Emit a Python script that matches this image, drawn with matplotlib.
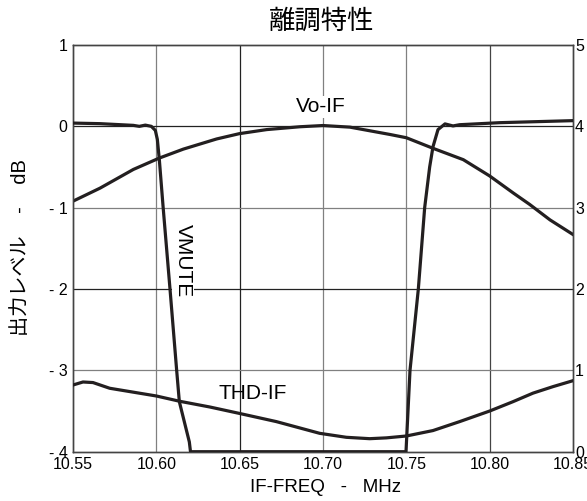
import matplotlib
matplotlib.use('Agg')
import matplotlib.pyplot as plt

plt.rcParams['font.family'] = ['Liberation Sans', 'Noto Sans CJK JP']

# frequency axis (MHz)
X_TICKS = [10.55, 10.60, 10.65, 10.70, 10.75, 10.80, 10.85]
X_LABELS = ['10.55', '10.60', '10.65', '10.70', '10.75', '10.80', '10.85']
LEFT_TICKS = [1, 0, -1, -2, -3, -4]
LEFT_LABELS = ['1', '0', '- 1', '- 2', '- 3', '- 4']
RIGHT_TICKS = [5, 4, 3, 2, 1, 0]
RIGHT_LABELS = ['5', '4', '3', '2', '1', '0']

# Vo-IF, output level in dB (left axis)
vo_freq = [10.55, 10.5662, 10.5862, 10.6018, 10.6162, 10.6362, 10.6498, 10.6662,
           10.6862, 10.70, 10.7162, 10.7402, 10.75, 10.766, 10.7842, 10.80,
           10.8142, 10.824, 10.8362, 10.85]
vo_level = [-0.92, -0.76, -0.53, -0.39, -0.28, -0.155, -0.09, -0.04,
            -0.005, 0.01, -0.01, -0.10, -0.14, -0.27, -0.41, -0.61,
            -0.82, -0.96, -1.15, -1.33]

# THD-IF (right axis)
thd_freq = [10.55, 10.556, 10.562, 10.572, 10.60, 10.614, 10.632, 10.65, 10.672,
            10.698, 10.714, 10.728, 10.738, 10.75, 10.766, 10.782, 10.80,
            10.814, 10.826, 10.838, 10.85]
thd_value = [0.82, 0.857, 0.85, 0.78, 0.685, 0.62, 0.55, 0.47, 0.37,
             0.226, 0.177, 0.16, 0.17, 0.193, 0.26, 0.37, 0.50,
             0.615, 0.72, 0.80, 0.873]

# VMUTE (right axis)
mute_freq = [10.55, 10.5662, 10.5862, 10.5898, 10.5934, 10.5970, 10.5994, 10.6006,
             10.6018, 10.6041, 10.6082, 10.6122, 10.6138, 10.6198, 10.6205,
             10.7498, 10.7522, 10.7572, 10.761, 10.764, 10.766, 10.769, 10.7732,
             10.778, 10.782, 10.806, 10.85]
mute_value = [4.04, 4.033, 4.012, 4.0, 4.015, 4.0, 3.95, 3.84,
              3.59, 3.0, 2.0, 1.0, 0.615, 0.12, 0.0,
              0.0, 1.0, 2.0, 3.0, 3.5, 3.75, 3.96, 4.03,
              4.005, 4.02, 4.045, 4.07]

CURVE = '#231f20'

fig = plt.figure(figsize=(5.87, 5.01), dpi=100)
ax = fig.add_axes([73 / 587, 49.3 / 501, 500 / 587, 406.7 / 501])
ax2 = ax.twinx()

ax.set_xlim(10.55, 10.85)
ax.set_ylim(-4, 1)
ax2.set_ylim(0, 5)

# grid lines, alternating darkness like the data sheet
vgrid = {10.60: '#808080', 10.65: '#222222', 10.70: '#808080', 10.75: '#808080', 10.80: '#444444'}
for xv, c in vgrid.items():
    ax.axvline(xv, color=c, lw=0.9, zorder=1)
hgrid = {0: '#222222', -1: '#808080', -2: '#222222', -3: '#808080'}
for yv, c in hgrid.items():
    ax.axhline(yv, color=c, lw=0.9, zorder=1)

ax.plot(vo_freq, vo_level, color=CURVE, lw=2.3, zorder=3, solid_joinstyle='round')
ax2.plot(thd_freq, thd_value, color=CURVE, lw=2.3, zorder=3, solid_joinstyle='round')
ax2.plot(mute_freq, mute_value, color=CURVE, lw=2.3, zorder=3, solid_joinstyle='round')

ax.set_xticks(X_TICKS, X_LABELS)
ax.set_yticks(LEFT_TICKS, LEFT_LABELS)
ax2.set_yticks(RIGHT_TICKS, RIGHT_LABELS)
ax.tick_params(axis='x', length=0, pad=3.5, labelsize=11.5)
ax.tick_params(axis='y', length=0, pad=4, labelsize=11.5)
ax2.tick_params(axis='y', length=0, pad=1.5, labelsize=11.5)

for a in (ax, ax2):
    for s in a.spines.values():
        s.set_color('#444444')
        s.set_linewidth(1.0)

# curve labels
box = dict(facecolor='white', edgecolor='none', pad=1)
ax.text(10.6985, 0.24, 'Vo-IF', fontsize=15, ha='center', va='center', bbox=box, zorder=2)
ax.text(10.658, -3.28, 'THD-IF', fontsize=15, ha='center', va='center', zorder=2)
ax.text(10.616, -1.65, 'VMUTE', fontsize=15, ha='center', va='center', rotation=-90,
        bbox=box, zorder=2)

fig.text(322 / 587, 1 - 22 / 501, '離調特性', fontsize=19, ha='center', va='center')
fig.text(325 / 587, 1 - 487 / 501, 'IF-FREQ   -   MHz', fontsize=13.5, ha='center', va='center')
fig.text(21 / 587, 1 - 248 / 501, '出力レベル    -    dB', fontsize=14.5, ha='center', va='center',
         rotation=90)

fig.savefig('out.png', dpi=100)
